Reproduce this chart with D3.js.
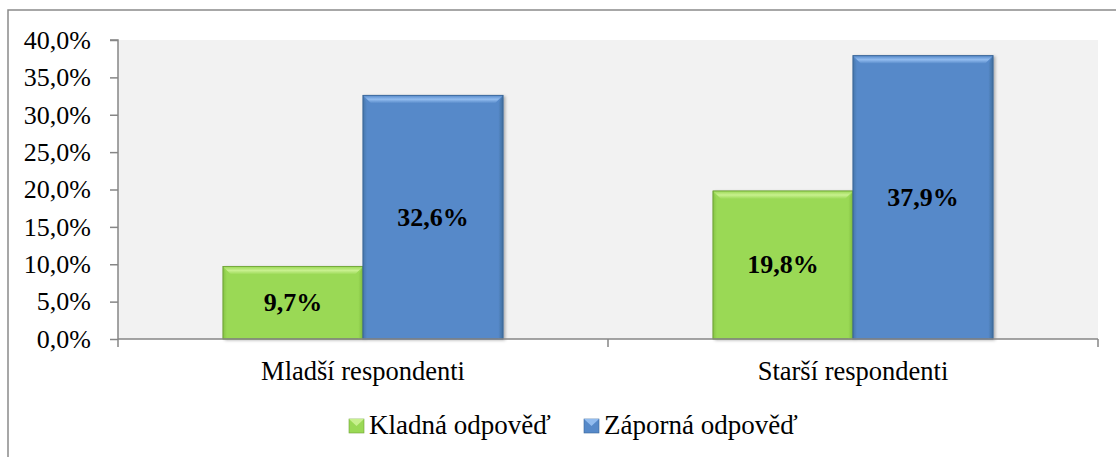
<!DOCTYPE html>
<html>
<head>
<meta charset="utf-8">
<script src="https://cdn.jsdelivr.net/npm/d3@7"></script>
<style>
  html, body { margin: 0; padding: 0; background: #fff; }
  svg { display: block; font-family: "Liberation Serif", "Times New Roman", serif; }
</style>
</head>
<body>
<svg id="chart" width="1116" height="457"></svg>
<script>
const categories = ["Mladší respondenti", "Starší respondenti"];
const seriesNames = ["Kladná odpověď", "Záporná odpověď"];
const kladna = [9.7, 19.8];
const zaporna = [32.6, 37.9];
const yTicks = [0, 5, 10, 15, 20, 25, 30, 35, 40];

const palette = [
  { main: "#9ad955", light: "#c8f08e", dark: "#7fbb3f", edge: "#6fa238" },
  { main: "#5689c9", light: "#92bcef", dark: "#41709f", edge: "#3a6698" }
];

const svg = d3.select("#chart");
const plot = { left: 118, right: 1098, top: 40, bottom: 339 };

// outer border
svg.append("rect").attr("x", 8).attr("y", 10).attr("width", 1130).attr("height", 470)
  .attr("fill", "none").attr("stroke", "#8a8a8a").attr("stroke-width", 1.5);

// plot background
svg.append("rect").attr("x", plot.left).attr("y", plot.top)
  .attr("width", plot.right - plot.left).attr("height", plot.bottom - plot.top)
  .attr("fill", "#f2f2f2");

const x0 = d3.scaleBand().domain(categories).range([plot.left, plot.right]).padding(0);
const x1 = d3.scaleBand().domain(seriesNames).range([0, x0.bandwidth()]).paddingInner(0).paddingOuter(0.75);
const y = d3.scaleLinear().domain([0, 40]).range([plot.bottom, plot.top]);

const fmt = v => d3.format(".1f")(v).replace(".", ",") + "%";

// defs for gradients
const defs = svg.append("defs");
palette.forEach((p, i) => {
  const gTop = defs.append("linearGradient").attr("id", "top" + i).attr("x1", 0).attr("y1", 0).attr("x2", 0).attr("y2", 1);
  gTop.append("stop").attr("offset", 0).attr("stop-color", p.main);
  gTop.append("stop").attr("offset", 0.5).attr("stop-color", p.light);
  gTop.append("stop").attr("offset", 1).attr("stop-color", p.main);
  const gR = defs.append("linearGradient").attr("id", "right" + i).attr("x1", 0).attr("y1", 0).attr("x2", 1).attr("y2", 0);
  gR.append("stop").attr("offset", 0).attr("stop-color", p.main);
  gR.append("stop").attr("offset", 1).attr("stop-color", p.dark);
  const gL = defs.append("linearGradient").attr("id", "left" + i).attr("x1", 0).attr("y1", 0).attr("x2", 1).attr("y2", 0);
  gL.append("stop").attr("offset", 0).attr("stop-color", p.dark);
  gL.append("stop").attr("offset", 1).attr("stop-color", p.main);
});
const shadow = defs.append("filter").attr("id", "sh").attr("x", "-10%").attr("y", "-10%").attr("width", "130%").attr("height", "130%");
shadow.append("feDropShadow").attr("dx", 2).attr("dy", 1).attr("stdDeviation", 1.5).attr("flood-color", "#000").attr("flood-opacity", 0.3);

// bars
const rows = [];
categories.forEach((c, ci) => {
  [kladna, zaporna].forEach((arr, si) => rows.push({ cat: c, s: seriesNames[si], si, v: arr[ci] }));
});

const bev = 8;
const barG = svg.append("g");
rows.forEach(d => {
  const p = palette[d.si];
  const bx = x0(d.cat) + x1(d.s);
  const bw = x1.bandwidth();
  const by = y(d.v);
  const bh = y(0) - by;
  const g = barG.append("g");
  g.append("rect").attr("x", bx).attr("y", by).attr("width", bw).attr("height", bh)
    .attr("fill", p.main).attr("stroke", p.edge).attr("stroke-width", 0.6).attr("filter", "url(#sh)");
  g.append("polygon").attr("points", [[bx, by], [bx + bw, by], [bx + bw - bev, by + bev], [bx + bev, by + bev]].map(q => q.join(",")).join(" "))
    .attr("fill", `url(#top${d.si})`);
  g.append("polygon").attr("points", [[bx, by], [bx + bev * 0.5, by + bev], [bx + bev * 0.5, by + bh], [bx, by + bh]].map(q => q.join(",")).join(" "))
    .attr("fill", `url(#left${d.si})`).attr("opacity", 0.7);
  g.append("polygon").attr("points", [[bx + bw, by], [bx + bw - bev * 0.6, by + bev], [bx + bw - bev * 0.6, by + bh], [bx + bw, by + bh]].map(q => q.join(",")).join(" "))
    .attr("fill", `url(#right${d.si})`);
  g.append("rect").attr("x", bx).attr("y", by).attr("width", bw).attr("height", bh)
    .attr("fill", "none").attr("stroke", p.edge).attr("stroke-width", 0.8);
  svg.append("text").attr("x", bx + bw / 2).attr("y", by + bh / 2)
    .attr("text-anchor", "middle").attr("dominant-baseline", "central")
    .attr("font-size", 26).attr("font-weight", "bold").attr("fill", "#000")
    .text(fmt(d.v));
});

// y axis
const yAxis = d3.axisLeft(y).tickValues(yTicks).tickSize(8).tickPadding(19).tickFormat(fmt);
const ya = svg.append("g").attr("transform", `translate(${plot.left},0)`).call(yAxis);
ya.select(".domain").attr("stroke", "#868686").attr("stroke-width", 1.5).attr("d", `M-8,${plot.top}H0V${plot.bottom}`);
ya.selectAll(".tick line").attr("stroke", "#868686").attr("stroke-width", 1.5);
ya.selectAll(".tick text").attr("font-size", 26).attr("fill", "#000")
  .attr("font-family", "Liberation Serif, Times New Roman, serif");

// x axis
const xa = svg.append("g").attr("transform", `translate(0,${plot.bottom})`)
  .call(d3.axisBottom(x0).tickSize(0).tickPadding(22));
xa.select(".domain").attr("stroke", "#868686").attr("stroke-width", 1.5)
  .attr("d", `M${plot.left},0H${plot.right}`);
xa.selectAll(".tick text").attr("font-size", 26.5).attr("fill", "#000")
  .attr("font-family", "Liberation Serif, Times New Roman, serif");
const seps = [plot.left, ...categories.map(c => x0(c) + x0.bandwidth())];
svg.append("g").selectAll("line").data(seps).join("line")
  .attr("x1", d => d).attr("x2", d => d).attr("y1", plot.bottom).attr("y2", plot.bottom + 8)
  .attr("stroke", "#868686").attr("stroke-width", 1.5);

// legend
const legendX = [349, 584];
const lg = svg.append("g");
seriesNames.forEach((s, i) => {
  const p = palette[i];
  const lx = legendX[i];
  lg.append("rect").attr("x", lx).attr("y", 419).attr("width", 15).attr("height", 14)
    .attr("fill", p.main).attr("stroke", p.edge).attr("stroke-width", 0.6);
  lg.append("polygon").attr("points", `${lx},419 ${lx + 15},419 ${lx + 7.5},426`).attr("fill", p.light);
  lg.append("text").attr("x", lx + 20).attr("y", 434).attr("font-size", 27).attr("fill", "#000").text(s);
});
</script>
</body>
</html>
